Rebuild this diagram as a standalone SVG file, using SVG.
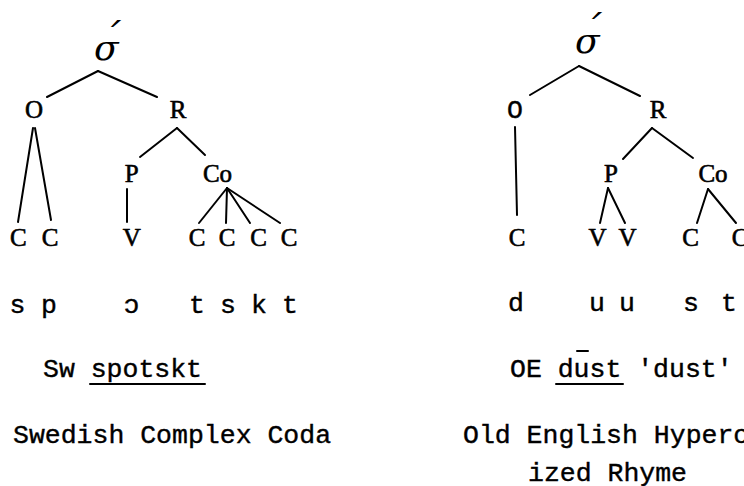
<svg xmlns="http://www.w3.org/2000/svg" width="744" height="486" viewBox="0 0 744 486">
<style>
.ln{stroke:#000;stroke-width:2;stroke-linecap:round;fill:none}
.lab{font-family:"Liberation Serif","Times New Roman",serif;font-size:25px;text-anchor:middle;fill:#000;stroke:#000;stroke-width:0.6}
.mono{font-family:"Liberation Mono","DejaVu Sans Mono",monospace;font-size:26.5px;fill:#000;stroke:#000;stroke-width:0.4}
.mid{text-anchor:middle}
.sig{font-family:"DejaVu Serif","Liberation Serif",serif;font-style:italic;font-size:36px;fill:#000}
.acc{font-size:40px}
</style>
<rect width="744" height="486" fill="#fff"/>
<g id="connectors">
<line class="ln" x1="98" y1="71" x2="47" y2="97"/>
<line class="ln" x1="98" y1="71" x2="157" y2="97"/>
<line class="ln" x1="33" y1="128" x2="18" y2="222"/>
<line class="ln" x1="35" y1="128" x2="51" y2="220"/>
<line class="ln" x1="177" y1="128" x2="140" y2="157"/>
<line class="ln" x1="177" y1="128" x2="205" y2="155"/>
<line class="ln" x1="127" y1="189" x2="127" y2="222"/>
<line class="ln" x1="227" y1="188" x2="199" y2="223"/>
<line class="ln" x1="227" y1="188" x2="226" y2="223"/>
<line class="ln" x1="227" y1="188" x2="250" y2="223"/>
<line class="ln" x1="227" y1="188" x2="280" y2="223"/>
<line class="ln" x1="579" y1="66" x2="530" y2="95"/>
<line class="ln" x1="579" y1="66" x2="640" y2="96"/>
<line class="ln" x1="515" y1="127" x2="517" y2="215"/>
<line class="ln" x1="652" y1="128" x2="623" y2="159"/>
<line class="ln" x1="652" y1="128" x2="693" y2="158"/>
<line class="ln" x1="608" y1="188" x2="600" y2="223"/>
<line class="ln" x1="608" y1="188" x2="625" y2="223"/>
<line class="ln" x1="708" y1="189" x2="697" y2="223"/>
<line class="ln" x1="708" y1="189" x2="736" y2="223"/>
</g>
<g id="L-sigma"><text class="sig" x="94" y="60">σ<tspan class="acc" dx="-18" dy="-9">´</tspan></text></g>
<g id="L-O"><text class="lab" x="34" y="118">O</text></g>
<g id="L-R"><text class="lab" x="178" y="118">R</text></g>
<g id="L-P"><text class="lab" x="131.7" y="182">P</text></g>
<g id="L-Co"><text class="lab" x="217.5" y="182">Co</text></g>
<g id="L-C1"><text class="lab" x="18.3" y="246">C</text></g>
<g id="L-C2"><text class="lab" x="50" y="246">C</text></g>
<g id="L-V"><text class="lab" x="131.7" y="246">V</text></g>
<g id="L-C3"><text class="lab" x="197" y="246">C</text></g>
<g id="L-C4"><text class="lab" x="227" y="246">C</text></g>
<g id="L-C5"><text class="lab" x="258.5" y="246">C</text></g>
<g id="L-C6"><text class="lab" x="289" y="246">C</text></g>
<g id="L-segments" class="mono mid">
<text x="17.5" y="313">s</text><text x="49" y="313">p</text><text x="131.5" y="313">ɔ</text>
<text x="197" y="313">t</text><text x="228" y="313">s</text><text x="259" y="313">k</text><text x="290" y="313">t</text>
</g>
<g id="L-caption">
<text class="mono" x="43" y="377">Sw spotskt</text>
<line class="ln" x1="90" y1="384" x2="205" y2="384" stroke-linecap="butt"/>
<text class="mono" x="13" y="443">Swedish Complex Coda</text>
</g>
<g id="R-sigma"><text class="sig" x="575" y="53">σ<tspan class="acc" dx="-18" dy="-10">´</tspan></text></g>
<g id="R-O"><text class="mono mid" x="515" y="118">O</text></g>
<g id="R-R"><text class="lab" x="658" y="118">R</text></g>
<g id="R-P"><text class="lab" x="611" y="182">P</text></g>
<g id="R-Co"><text class="lab" x="713" y="182">Co</text></g>
<g id="R-C1"><text class="lab" x="517" y="246">C</text></g>
<g id="R-V1"><text class="lab" x="597.5" y="246">V</text></g>
<g id="R-V2"><text class="lab" x="627.5" y="246">V</text></g>
<g id="R-C2"><text class="lab" x="690.5" y="246">C</text></g>
<g id="R-C3"><text class="lab" x="740" y="246">C</text></g>
<g id="R-segments" class="mono mid">
<text x="516" y="311">d</text><text x="597" y="311">u</text><text x="627" y="311">u</text>
<text x="691" y="311">s</text><text x="729" y="311">t</text>
</g>
<g id="R-caption">
<text class="mono" x="510" y="377">OE dust 'dust'</text>
<line class="ln" x1="577" y1="351" x2="588" y2="351" stroke-linecap="butt"/>
<line class="ln" x1="556" y1="384" x2="623" y2="384" stroke-linecap="butt"/>
<text class="mono" x="463" y="443">Old English Hyperc</text>
<text class="mono" x="528" y="481">ized Rhyme</text>
</g>
</svg>
